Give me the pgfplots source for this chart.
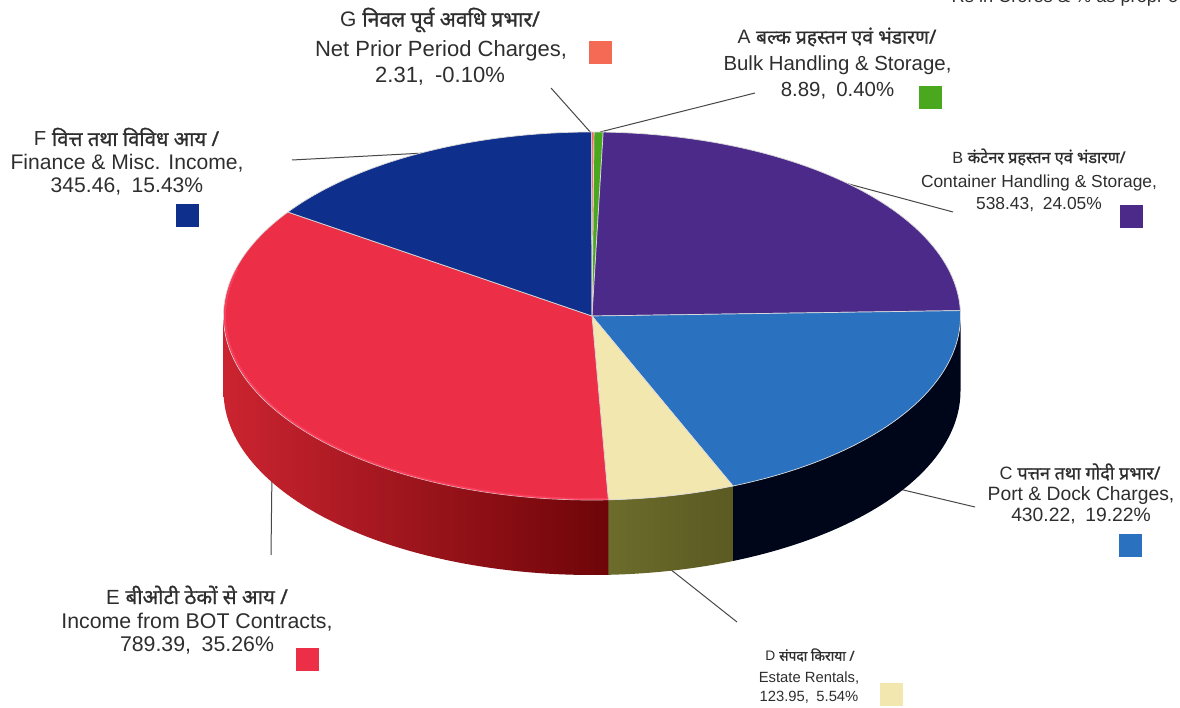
\documentclass[border=0pt]{standalone}
\usepackage{fontspec}
\usepackage{pgfplots}
\pgfplotsset{compat=1.18}
\setmainfont{Liberation Sans}
\newfontfamily\hindi[Script=Devanagari,FakeBold=1.1]{Noto Sans}

% Revenue shares in per cent; G is shown by its size on the pie
\def\pA{0.40}\def\pB{24.05}\def\pC{19.22}\def\pD{5.54}\def\pE{35.26}\def\pF{15.43}\def\pG{0.10}

% Slice boundaries, clockwise from the start of A
\pgfmathsetmacro\aA{89.7}
\pgfmathsetmacro\aB{\aA-3.6*\pA}
\pgfmathsetmacro\aC{\aB-3.6*\pB}
\pgfmathsetmacro\aD{\aC-3.6*\pC}
\pgfmathsetmacro\aE{\aD-3.6*\pD}
\pgfmathsetmacro\aF{\aE-3.6*\pE}
\pgfmathsetmacro\aG{\aF-3.6*\pF}
\pgfmathsetmacro\aH{\aG-3.6*\pG}

\definecolor{cA}{HTML}{4AA81E}\definecolor{cB}{HTML}{4C2A8A}
\definecolor{cC}{HTML}{2A72BF}\definecolor{cD}{HTML}{F3E7B0}
\definecolor{cE}{HTML}{EC2F47}\definecolor{cF}{HTML}{0F2F8C}
\definecolor{cG}{HTML}{F56A55}\definecolor{txt}{HTML}{2E2E2E}
\definecolor{wallC}{HTML}{00061A}
\definecolor{wallDa}{HTML}{6C6C2C}\definecolor{wallDb}{HTML}{5A5A22}
\definecolor{wallEa}{HTML}{CB2430}\definecolor{wallEb}{HTML}{B51A24}\definecolor{wallEc}{HTML}{6E0508}
\definecolor{rim}{HTML}{FF4565}

% Top face of one slice
\newcommand\topslice[3]{%
  \addplot[draw=white!85!black,line width=0.7pt,fill=#3,no markers,domain=0:1,samples=90,variable=\t]
    ({592+368.5*cos(#1+(#2-#1)*\t)},{316-184*sin(#1+(#2-#1)*\t)}) -- (axis cs:592,316) -- cycle;}
% Outer wall of one slice: along the top rim, then back along the bottom rim
\newcommand\wall[3]{%
  \addplot[draw=none,#3,no markers,domain=0:1,samples=122,variable=\t]
    ({592+368.5*cos(#1+(#2-#1)*(\t<0.5?min(1,\t/0.495):min(1,(1-\t)/0.495)))},
     {316-184*sin(#1+(#2-#1)*(\t<0.5?min(1,\t/0.495):min(1,(1-\t)/0.495)))+(\t<0.5?0:75)}) -- cycle;}
% Leader line
\newcommand\leader[2]{\addplot[draw=black!72,line width=1pt,no markers] coordinates {#1 #2};}
% Colour key square
\newcommand\key[3]{\addplot[only marks,mark=square*,mark size=11pt,mark options={draw=#3,fill=#3,line width=0pt}] coordinates {(#1,#2)};}
% One line of label text
\newcommand\lbl[4]{\node[text=txt,inner sep=0pt,anchor=center] at (axis cs:#1,#2) {\fontsize{#3}{#3}\selectfont #4};}
\newcommand\hi[1]{{\hindi #1}}

\begin{document}
\begin{tikzpicture}
\path[use as bounding box] (0,0) rectangle (1180pt,708pt);
\begin{axis}[
  at={(0,0)},anchor=south west,
  scale only axis,x=1pt,y=1pt,
  xmin=0,xmax=1180,ymin=0,ymax=708,y dir=reverse,
  axis lines=none,clip=false,
]
% Leader lines run under the pie
\leader{(551,88)}{(592,134)}
\leader{(755,93)}{(600,132)}
\leader{(953,212)}{(845,183)}
\leader{(975,507)}{(895,488)}
\leader{(737,622)}{(665,565)}
\leader{(271,555)}{(272,470)}
\leader{(292,160)}{(425,153)}

% Outer walls of the slices facing the viewer
\wall{0}{\aD}{fill=wallC}
\wall{\aD}{\aE}{left color=wallDa,right color=wallDb}
\wall{\aE}{-180}{left color=wallEa,middle color=wallEb,right color=wallEc}

% Top faces
\topslice{\aA}{\aB}{cA}
\topslice{\aB}{\aC}{cB}
\topslice{\aC}{\aD}{cC}
\topslice{\aD}{\aE}{cD}
\topslice{\aE}{\aF}{cE}
\topslice{\aF}{\aG}{cF}
\topslice{\aG}{\aH}{cG}

% Glossy edge on the front of slice E
\addplot[draw=rim,line width=2pt,opacity=0.7,no markers,domain=\aE:-195,samples=80,variable=\t]
  ({592+367*cos(\t)},{316-183*sin(\t)});

% Colour key
\key{600.5}{52.5}{cG}
\key{930}{97.5}{cA}
\key{1131.5}{216.5}{cB}
\key{1130.5}{545.5}{cC}
\key{891.5}{694.5}{cD}
\key{307}{659.5}{cE}
\key{187}{216}{cF}

% Labels
\lbl{440}{20}{21}{G \hi{निवल पूर्व अवधि प्रभार/}}
\lbl{441}{51}{22}{Net Prior Period Charges,}
\lbl{440}{76}{22}{2.31,\enspace-0.10\%}
\lbl{837}{37}{19.4}{A \hi{बल्क प्रहस्तन एवं भंडारण/}}
\lbl{837.5}{65}{20.4}{Bulk Handling \& Storage,}
\lbl{837.5}{91}{20.4}{8.89,\enspace0.40\%}
\lbl{1039}{157}{16.2}{B \hi{कंटेनर प्रहस्तन एवं भंडारण/}}
\lbl{1039}{183}{17.4}{Container Handling \& Storage,}
\lbl{1039}{205}{17.4}{538.43,\enspace24.05\%}
\lbl{1080}{472}{17.9}{C \hi{पत्तन तथा गोदी प्रभार/}}
\lbl{1081}{496}{19.3}{Port \& Dock Charges,}
\lbl{1081}{516}{19.3}{430.22,\enspace19.22\%}
\lbl{810}{655}{13.8}{D \hi{संपदा किराया /}}
\lbl{809}{678}{14.8}{Estate Rentals,}
\lbl{809}{697}{14.8}{123.95,\enspace5.54\%}
\lbl{197}{595}{20.5}{E \hi{बीओटी ठेकों से आय /}}
\lbl{197}{622}{21.3}{Income from BOT Contracts,}
\lbl{197}{645}{21.3}{789.39,\enspace35.26\%}
\lbl{126.5}{137}{20.3}{F \hi{वित्त तथा विविध आय /}}
\lbl{127}{163}{21.1}{Finance \& Misc. Income,}
\lbl{127}{186}{21.1}{345.46,\enspace15.43\%}
\lbl{1065}{-2}{18.2}{Rs in Crores \& \% as propr o}
\end{axis}
\end{tikzpicture}
\end{document}
